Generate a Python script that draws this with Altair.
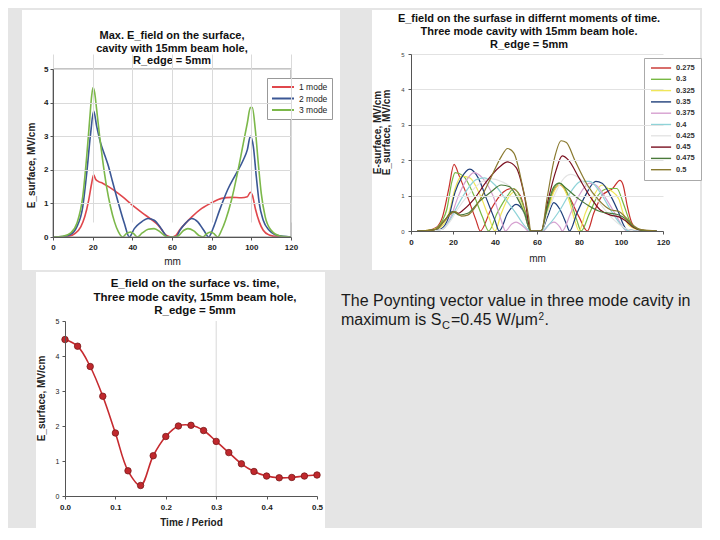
import altair as alt
import pandas as pd

FONT = "Liberation Sans"

# ---------------- Chart A : max E field, three modes ----------------
a_names = ["1 mode", "2 mode", "3 mode"]
a_colors = ["#e0474c", "#3b5795", "#7cb84a"]

a1_x = [0, 5, 8, 11, 14, 16, 18, 19.5, 20.5, 21.5, 23, 25, 28, 31, 35, 40, 45, 50, 53, 55,
        57, 60, 62, 64, 67, 70, 75, 80, 85, 90, 95, 98, 99.5, 100.5, 102, 104, 106, 109, 113, 120]
a1_y = [0, 0, 0.02, 0.1, 0.3, 0.6, 1.1, 1.6, 1.85, 1.72, 1.65, 1.6, 1.5, 1.38, 1.2, 0.95, 0.72, 0.5, 0.35, 0.2,
        0.05, 0, 0.05, 0.22, 0.42, 0.6, 0.85, 1.02, 1.15, 1.18, 1.17, 1.2, 1.33, 1.25, 0.85, 0.45, 0.2, 0.06, 0.01, 0]

a2_x = [0, 5, 9, 12, 15, 17, 19, 20.5, 22, 24, 26, 28, 30, 33, 36, 38.5, 41, 44, 48, 51,
        54, 56, 58, 62, 64, 67, 70, 73, 76, 78.5, 81, 84, 88, 92, 96, 98, 99.5, 101, 102.5, 104,
        106, 109, 113, 120]
a2_y = [0, 0.01, 0.08, 0.3, 0.9, 1.9, 3.1, 3.75, 3.3, 2.8, 2.45, 2.1, 1.65, 1.0, 0.4, 0, 0.25, 0.42, 0.55, 0.5,
        0.3, 0.12, 0, 0, 0.2, 0.42, 0.55, 0.45, 0.2, 0, 0.3, 0.8, 1.4, 1.85, 2.3, 2.6, 3.0, 2.7, 1.8, 1.0,
        0.5, 0.2, 0.05, 0]

a3_x = [0, 5, 9, 12, 15, 17, 18.5, 19.5, 20.2, 21, 22, 23.5, 25, 27, 29, 31, 33, 35, 37, 39,
        41, 42.5, 45, 48, 51, 54, 56.5, 58, 62, 63.5, 66, 68, 71, 73.5, 75.5, 77.5, 79.5, 81.5, 83, 85,
        87, 90, 93, 96, 98, 99.5, 100.5, 102, 103.5, 105, 107, 110, 114, 120]
a3_y = [0, 0.02, 0.12, 0.4, 1.2, 2.4, 3.5, 4.2, 4.45, 4.3, 3.8, 3.0, 2.3, 1.5, 0.9, 0.45, 0.15, 0, 0.1, 0.15,
        0.08, 0, 0.12, 0.23, 0.25, 0.15, 0.03, 0, 0, 0.05, 0.2, 0.25, 0.18, 0.05, 0, 0.1, 0.15, 0.08, 0, 0.2,
        0.5, 1.1, 1.9, 2.8, 3.4, 3.85, 3.85, 3.2, 2.2, 1.3, 0.6, 0.2, 0.04, 0]

a_ticks_x = [0, 20, 40, 60, 80, 100, 120]
a_ticks_y = [0, 1, 2, 3, 4, 5]
a_title = ["Max. E_field on the surface,", "cavity with 15mm beam hole,", "R_edge = 5mm"]

# ---------------- Chart B : field at different moments ----------------
b_names = ["0.275", "0.3", "0.325", "0.35", "0.375", "0.4", "0.425", "0.45", "0.475", "0.5"]
b_colors = ["#c8302c", "#77b843", "#f0e65a", "#1f3f7a", "#d6a0d0",
            "#8fd3d8", "#e4e4e4", "#7a1020", "#4a7a3a", "#8a7a30"]

b1_x = [3, 8, 12, 15, 18, 20.5, 23, 27, 31, 33, 38, 44, 48, 52, 55, 57, 62, 65, 68, 71,
        75, 80, 84, 87, 91, 96, 99.5, 101, 103, 105, 108, 112, 117]
b1_y = [0, 0.02, 0.1, 0.4, 1.2, 1.88, 1.55, 0.95, 0.3, 0, 0.6, 1.1, 1.2, 1.0, 0.4, 0, 0, 0.6, 1.15, 1.3,
        1.0, 0.4, 0, 0.5, 1.0, 1.2, 1.43, 1.3, 0.7, 0.25, 0.05, 0.01, 0]
b2_x = [3, 8, 12, 15, 17, 19.5, 21, 25, 30, 34, 37, 41, 46, 49, 53, 55.5, 57, 62, 65, 68,
        71, 75, 79, 81, 85, 89, 94, 98, 101, 104, 108, 112, 117]
b2_y = [0, 0.02, 0.08, 0.3, 0.6, 1.4, 1.65, 1.55, 1.0, 0.4, 0, 0.5, 1.0, 1.2, 0.8, 0.3, 0, 0, 0.6, 1.2,
        1.35, 1.0, 0.3, 0, 0.5, 1.0, 1.2, 1.2, 0.8, 0.3, 0.05, 0.01, 0]
b3_x = [3, 8, 12, 14, 18, 21, 24, 28, 33, 37, 40, 43, 47, 49, 53, 57, 62, 65, 68, 71,
        75, 78, 80, 83, 87, 91, 95, 99, 101, 104, 110, 117]
b3_y = [0, 0.02, 0.06, 0.1, 0.5, 1.2, 1.55, 1.5, 1.0, 0.4, 0, 0.5, 1.0, 1.1, 0.7, 0, 0, 0.5, 1.1, 1.3,
        0.9, 0.3, 0, 0.5, 1.0, 1.3, 1.15, 0.9, 0.5, 0.15, 0.02, 0]
b4_x = [3, 8, 12, 14, 18, 21, 24, 28, 32, 36, 40, 42, 46, 50, 54, 57, 62, 65, 68, 71,
        74, 75.5, 79, 83, 88, 91, 95, 99, 101, 103, 110, 117]
b4_y = [0, 0.01, 0.03, 0.05, 0.4, 1.1, 1.5, 1.75, 1.5, 0.9, 0.3, 0, 0.5, 0.75, 0.5, 0, 0, 0.4, 0.8, 0.6,
        0.2, 0, 0.5, 1.0, 1.4, 1.35, 1.0, 0.5, 0.2, 0.03, 0, 0]
b5_x = [3, 10, 15, 19, 22, 26, 30, 34, 39, 43, 45, 48, 50, 54, 56, 62, 63, 66, 68, 71,
        72, 76, 80, 85, 88, 93, 98, 101, 103, 117]
b5_y = [0, 0.01, 0.05, 0.4, 0.9, 1.4, 1.65, 1.5, 1.0, 0.3, 0, 0.2, 0.25, 0.1, 0, 0, 0, 0.2, 0.25, 0.1,
        0, 0.5, 1.0, 1.35, 1.3, 0.9, 0.4, 0.1, 0, 0]
b6_x = [3, 10, 15, 19, 22, 26, 31, 35, 40, 45, 50, 54, 57, 62, 66, 71, 76, 81, 85, 90,
        95, 99, 102, 104, 117]
b6_y = [0, 0.01, 0.05, 0.35, 0.7, 1.1, 1.45, 1.5, 1.3, 0.9, 0.5, 0.15, 0, 0, 0.2, 0.6, 1.1, 1.4, 1.4, 1.1,
        0.6, 0.25, 0.05, 0, 0]
b7_x = [3, 10, 15, 19, 22, 27, 34, 38, 43, 48, 52, 55, 57, 62, 65, 69, 73, 76, 81, 86,
        91, 96, 100, 104, 106, 117]
b7_y = [0, 0.01, 0.05, 0.3, 0.6, 1.0, 1.4, 1.48, 1.4, 1.2, 0.8, 0.3, 0, 0, 0.5, 1.1, 1.5, 1.6, 1.45, 1.1,
        0.7, 0.35, 0.15, 0.03, 0, 0]
b8_x = [3, 8, 12, 16, 20, 22.5, 25, 30, 36, 42, 46, 50, 54, 57, 62, 65, 69, 72, 75, 80,
        85, 90, 95, 99, 102, 106, 110, 117]
b8_y = [0, 0.01, 0.05, 0.3, 0.55, 0.5, 0.6, 0.9, 1.4, 1.8, 1.95, 1.8, 1.0, 0, 0, 0.8, 1.7, 2.12, 2.0, 1.5,
        1.0, 0.6, 0.45, 0.4, 0.3, 0.1, 0.02, 0]
b9_x = [3, 8, 12, 16, 20, 23, 27, 32, 38, 43, 47, 50, 54, 57, 62, 65, 68, 70.5, 74, 80,
        85, 90, 95, 99, 102, 106, 110, 117]
b9_y = [0, 0.01, 0.05, 0.3, 0.55, 0.45, 0.5, 0.8, 1.1, 1.3, 1.25, 1.0, 0.5, 0, 0, 0.7, 1.25, 1.35, 1.2, 0.9,
        0.7, 0.55, 0.5, 0.45, 0.35, 0.12, 0.02, 0]
b10_x = [3, 8, 12, 16, 21, 24, 27, 32, 38, 43, 46, 49, 53, 56, 57, 62, 65, 68.5, 71.5, 74,
         78, 84, 89, 95, 99, 102, 106, 110, 117]
b10_y = [0, 0.01, 0.05, 0.3, 0.55, 0.42, 0.45, 0.8, 1.5, 2.1, 2.33, 2.2, 1.3, 0.4, 0, 0, 1.0, 2.1, 2.55, 2.5,
         2.0, 1.3, 0.9, 0.6, 0.55, 0.4, 0.15, 0.03, 0]

b_ticks_x = [0, 20, 40, 60, 80, 100, 120]
b_ticks_y = [0, 1, 2, 3, 4, 5]
b_title = ["E_field on the surfase in differnt moments of time.",
           "Three mode cavity with 15mm beam hole.", "R_edge = 5mm"]

# ---------------- Chart C : E field vs time ----------------
c_t = [0.0, 0.025, 0.05, 0.075, 0.1, 0.125, 0.15, 0.175, 0.2, 0.225, 0.25,
       0.275, 0.3, 0.325, 0.35, 0.375, 0.4, 0.425, 0.45, 0.475, 0.5]
c_e = [4.47, 4.28, 3.7, 2.85, 1.8, 0.72, 0.3, 1.15, 1.7, 2.0, 2.02,
       1.87, 1.56, 1.24, 0.92, 0.7, 0.57, 0.52, 0.53, 0.57, 0.6]
c_ticks_x = [0.0, 0.1, 0.2, 0.3, 0.4, 0.5]
c_ticks_y = [0, 1, 2, 3, 4, 5]
c_grid_x = [0.3]
c_title = ["E_field on the surface vs. time,", "Three mode cavity, 15mm beam hole,", "R_edge = 5mm"]

note_line1 = "The Poynting vector value in three mode cavity in"
note_parts = ["maximum is S", "C", "=0.45 W/\u03bcm", "2", "."]

# ---------------- build tables ----------------
rowsA = []
for n, xs, ys in zip(a_names, [a1_x, a2_x, a3_x], [a1_y, a2_y, a3_y]):
    for xv, yv in zip(xs, ys):
        rowsA.append({"series": n, "mm": xv, "E": yv})
dfA = pd.DataFrame(rowsA)

rowsB = []
bx = [b1_x, b2_x, b3_x, b4_x, b5_x, b6_x, b7_x, b8_x, b9_x, b10_x]
by = [b1_y, b2_y, b3_y, b4_y, b5_y, b6_y, b7_y, b8_y, b9_y, b10_y]
for n, xs, ys in zip(b_names, bx, by):
    for xv, yv in zip(xs, ys):
        rowsB.append({"series": n, "mm": xv, "E": yv})
dfB = pd.DataFrame(rowsB)

dfC = pd.DataFrame({"t": c_t, "E": c_e})
dfCg = pd.DataFrame({"t": c_grid_x})
one = pd.DataFrame({"k": [0]})


def panel(x1, x2, y1, y2):
    return alt.Chart(one).mark_rect(fill="#ffffff").encode(
        x=alt.value(x1), x2=alt.value(x2), y=alt.value(y1), y2=alt.value(y2))


def frame(x1, x2, y1, y2, color):
    return alt.Chart(one).mark_rect(filled=False, stroke=color, strokeWidth=1).encode(
        x=alt.value(x1), x2=alt.value(x2), y=alt.value(y1), y2=alt.value(y2))


def title_lines(lines, cx, ys, size):
    out = []
    for t, yv in zip(lines, ys):
        out.append(alt.Chart(one).mark_text(text=t, font=FONT, fontSize=size, fontWeight="bold",
                                            color="#111111", align="center", baseline="alphabetic")
                   .encode(x=alt.value(cx), y=alt.value(yv)))
    return out


AX = dict(zindex=1, labelFont=FONT, titleFont=FONT, titleColor="#222222",
          domainColor="#555555", tickColor="#555555", labelFlush=False)

# ---- A  (group origin shared with B's plot top: A plot starts 15px lower)
WA, HA, DA = 238, 183, 15
linesA = alt.Chart(dfA).mark_line(strokeWidth=1.6, interpolate="monotone").encode(
    x=alt.X("mm:Q", scale=alt.Scale(domain=[0, 120], nice=False),
            axis=alt.Axis(values=a_ticks_x, title="mm", titleFontSize=10, titleFontWeight="normal",
                          labelFontSize=8, labelFontWeight="bold", labelColor="#222222",
                          tickSize=3, labelPadding=3,
                          titlePadding=5, grid=True, gridColor="#dadada", **AX)),
    y=alt.Y("E:Q", scale=alt.Scale(domain=[0, 5], nice=False, range=[HA, DA]),
            axis=alt.Axis(values=a_ticks_y, title="E_surface, MV/cm", titleFontSize=10,
                          titleFontWeight="bold", labelFontSize=8, labelFontWeight="bold",
                          labelColor="#222222",
                          tickSize=3, labelPadding=2, titlePadding=7, titleY=111,
                          grid=True, gridColor="#dadada", **AX)),
    color=alt.Color("series:N", scale=alt.Scale(domain=a_names, range=a_colors),
                    legend=alt.Legend(title=None, orient="none", legendX=214, legendY=24,
                                      direction="vertical", fillColor="#ffffff", strokeColor="#999999",
                                      padding=4, rowPadding=1.5, symbolType="M-1,0H4.5", symbolSize=64,
                                      symbolStrokeWidth=2, labelOffset=18, labelFont=FONT,
                                      labelFontSize=8.5, labelColor="#222222")),
)
chartA = alt.layer(
    panel(-31, WA + 49, -44, 216),
    linesA,
    frame(0, WA, DA, HA, "#8a8a8a"),
    *title_lines(a_title, 119, [-14.7, -2.3, 10], 11),
).properties(width=WA, height=HA)

# ---- B
WB, HB = 252, 177
linesB = alt.Chart(dfB).mark_line(strokeWidth=1.2, interpolate="monotone").encode(
    x=alt.X("mm:Q", scale=alt.Scale(domain=[0, 120], nice=False),
            axis=alt.Axis(values=b_ticks_x, title="mm", titleFontSize=10, titleFontWeight="normal",
                          labelFontSize=8, labelFontWeight="bold", labelColor="#222222",
                          tickSize=3, labelPadding=4,
                          titlePadding=7, grid=False, **AX)),
    y=alt.Y("E:Q", scale=alt.Scale(domain=[0, 5], nice=False),
            axis=alt.Axis(values=b_ticks_y, title=["E-surface, MV/cm", "E_surface, MV/cm"],
                          titleFontSize=10, titleFontWeight="bold", titleLineHeight=9,
                          labelFontSize=6, labelFontWeight="normal", labelColor="#444444",
                          tickSize=3, labelPadding=4, titlePadding=9, titleY=78,
                          grid=True, gridColor="#e2e2e2", **AX)),
    color=alt.Color("series:N", scale=alt.Scale(domain=b_names, range=b_colors),
                    legend=alt.Legend(title=None, orient="none", legendX=233, legendY=4,
                                      direction="vertical", fillColor="#ffffff", strokeColor="#aaaaaa",
                                      padding=6, rowPadding=3.3, symbolType="M-1,0H5.7", symbolSize=36,
                                      symbolStrokeWidth=1.4, labelOffset=18, labelFont=FONT,
                                      labelFontSize=7.5, labelFontWeight="bold", labelColor="#333333")),
)
chartB = alt.layer(
    panel(-39, WB + 37, -44, HB + 39),
    linesB,
    *title_lines(b_title, 118, [-32.5, -19, -6.5], 11),
).properties(width=WB, height=HB)

# ---- C  (group origin shared with A's plot left: C plot starts 12px further right)
DC = 12
WC, HC = 252 + DC, 175
xC = alt.X("t:Q", scale=alt.Scale(domain=[0, 0.5], nice=False, range=[DC, WC]),
           axis=alt.Axis(values=c_ticks_x, format=".1f", title="Time / Period", titleFontSize=10,
                         titleFontWeight="bold", labelFontSize=8, labelFontWeight="bold",
                         labelColor="#222222",
                         tickSize=3, labelPadding=4, titlePadding=6, grid=False, **AX))
yC = alt.Y("E:Q", scale=alt.Scale(domain=[0, 5], nice=False),
           axis=alt.Axis(values=c_ticks_y, title="E_surface, MV/cm", titleFontSize=10,
                         titleFontWeight="bold", labelFontSize=7, labelFontWeight="normal",
                         labelColor="#222222",
                         tickSize=3, labelPadding=3, titlePadding=9, titleY=77, offset=-DC,
                         grid=False, **AX))
gridC = alt.Chart(dfCg).mark_rule(color="#d8d8d8", strokeWidth=1).encode(x=xC)
lineC = alt.Chart(dfC).mark_line(color="#c62a2f", strokeWidth=1.6, interpolate="catmull-rom").encode(
    x=xC, y=yC)
ptsC = alt.Chart(dfC).mark_circle(size=42, color="#c0282d", stroke="#7a1a1a", strokeWidth=0.8,
                                  opacity=1).encode(x=xC, y=yC)
chartC = alt.layer(
    panel(-17, 272, -49, 207),
    gridC, lineC, ptsC,
    *title_lines(c_title, 142, [-34.3, -20.3, -7], 11.5),
).properties(width=WC, height=HC)

# ---- note text (group origin shared with C's plot top)
FS, SFS = 16, 11
w_p1 = 6.278 * FS
w_p2 = 0.722 * SFS
w_p3 = 5.439 * FS
w_p4 = 0.556 * 10
xs = [0, w_p1 + 0.5, w_p1 + w_p2 + 1.5, w_p1 + w_p2 + w_p3 + 2, w_p1 + w_p2 + w_p3 + w_p4 + 2.5]
ys = [4, 7.5, 4, -1, 4]
sizes = [FS, SFS, FS, 10, FS]
note_layers = [alt.Chart(one).mark_text(text=note_line1, font=FONT, fontSize=FS, color="#1a1a1a",
                                        align="left", baseline="alphabetic")
               .encode(x=alt.value(0), y=alt.value(-15.5))]
for t, xv, yv, s in zip(note_parts, xs, ys, sizes):
    note_layers.append(alt.Chart(one).mark_text(text=t, font=FONT, fontSize=s, color="#1a1a1a",
                                                align="left", baseline="alphabetic")
                       .encode(x=alt.value(xv), y=alt.value(yv)))
chartT = alt.layer(*note_layers).properties(width=350, height=190)

top = alt.hconcat(chartA, chartB, spacing=32).resolve_scale(color="independent").resolve_legend(color="independent")
bottom = alt.hconcat(chartC, chartT, spacing=16).resolve_scale(color="independent")
chart = alt.vconcat(top, bottom, spacing=2).resolve_scale(color="independent").resolve_legend(
    color="independent").properties(
    padding={"left": 14, "top": 2, "right": 0, "bottom": 0},
    background="#e5e5e5",
).configure_view(stroke=None)

chart.save("out.html", embed_options={"renderer": "svg", "actions": False})
